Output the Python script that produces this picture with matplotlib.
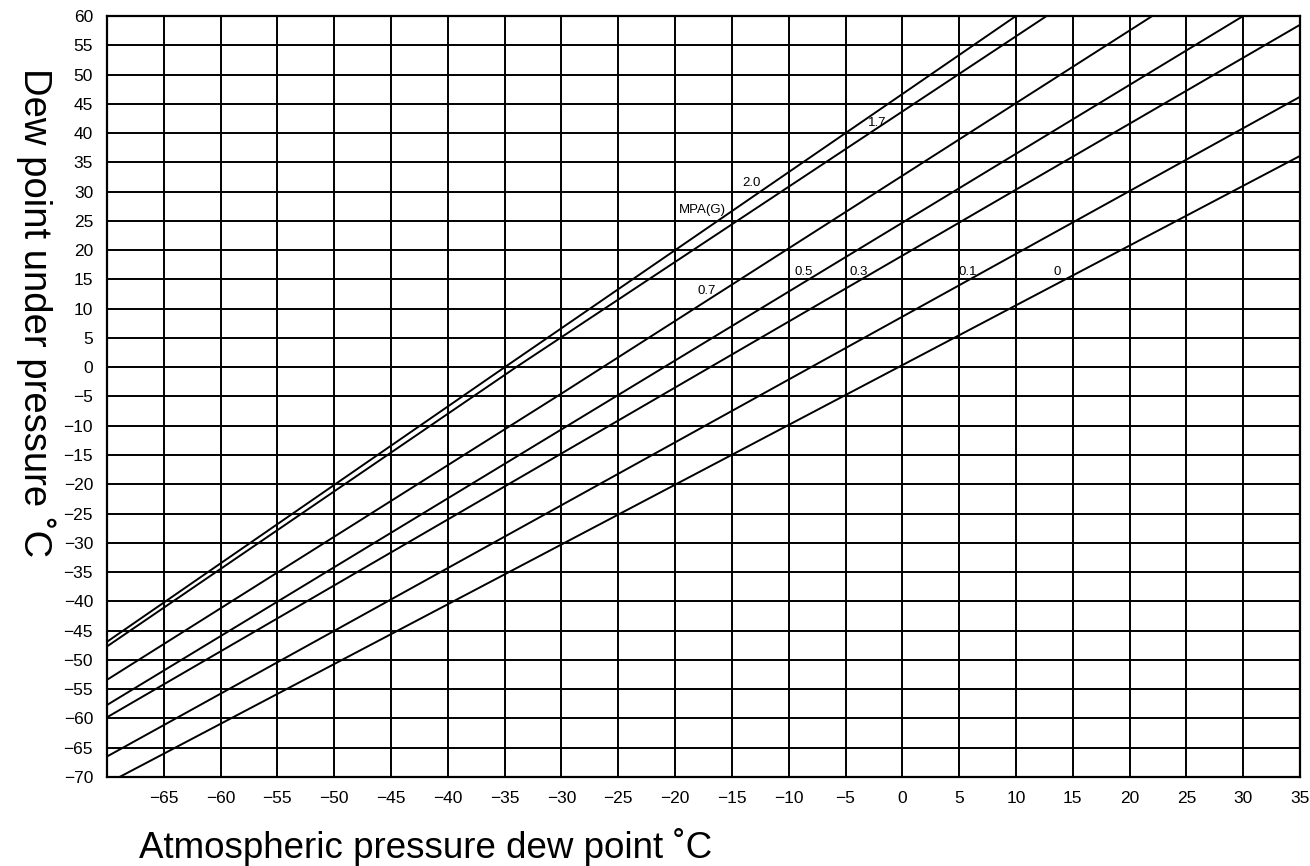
import numpy as np
import matplotlib
matplotlib.use("Agg")
import matplotlib.pyplot as plt

plt.rcParams['font.family'] = ['Liberation Sans', 'DejaVu Sans']

# pressure lines (MPa gauge) as (x, y) points
pressures = ["2.0", "1.7", "0.7", "0.5", "0.3", "0.1", "0"]
line_x = [
    [-70, -35, 10],
    [-70, -34, 12.7],
    [-70, -30, 22],
    [-70, 30],
    [-70, 35],
    [-70, 35],
    [-68.9, 35],
]
line_y = [
    [-46.9, 0, 60],
    [-47.7, 0, 60],
    [-53.4, -4.5, 60],
    [-57.7, 60],
    [-59.8, 58.5],
    [-66.5, 46.2],
    [-70, 36.1],
]

# label positions for the lines
label_text = ["2.0", "1.7", "MPA(G)", "0.7", "0.5", "0.3", "0.1", "0"]
label_x = [-13.3, -2.2, -17.6, -17.2, -8.7, -3.85, 5.8, 13.6]
label_y = [31.4, 41.7, 26.9, 13.1, 16.3, 16.3, 16.3, 16.3]

x_ticks = list(range(-65, 40, 5))
y_ticks = list(range(-70, 65, 5))

fig = plt.figure(figsize=(13.1, 8.66), dpi=100)
ax = fig.add_axes([107 / 1310, 89 / 866, 1193 / 1310, 761 / 866])

for i in range(len(pressures)):
    ax.plot(line_x[i], line_y[i], color="black", linewidth=1.4)

for i in range(len(label_text)):
    ax.text(label_x[i], label_y[i], label_text[i], fontsize=9.5,
            ha="center", va="center", color="black")

ax.set_xlim(-70, 35)
ax.set_ylim(-70, 60)
ax.set_xticks(x_ticks)
ax.set_yticks(y_ticks)
ax.set_xticks(range(-70, 40, 5), minor=True)
ax.grid(True, which="both", color="black", linewidth=1.4)
ax.tick_params(which="both", length=0, labelsize=12.5, pad=10)
for s in ax.spines.values():
    s.set_linewidth(1.6)

fig.text(139 / 1310, 19 / 866, "Atmospheric pressure dew point ˚C",
         fontsize=26.5, ha="left", va="center")
fig.text(36 / 1310, (866 - 313) / 866, "Dew point under pressure ˚C",
         fontsize=27.5, rotation=270, ha="center", va="center")

fig.savefig("out.png", dpi=100)
